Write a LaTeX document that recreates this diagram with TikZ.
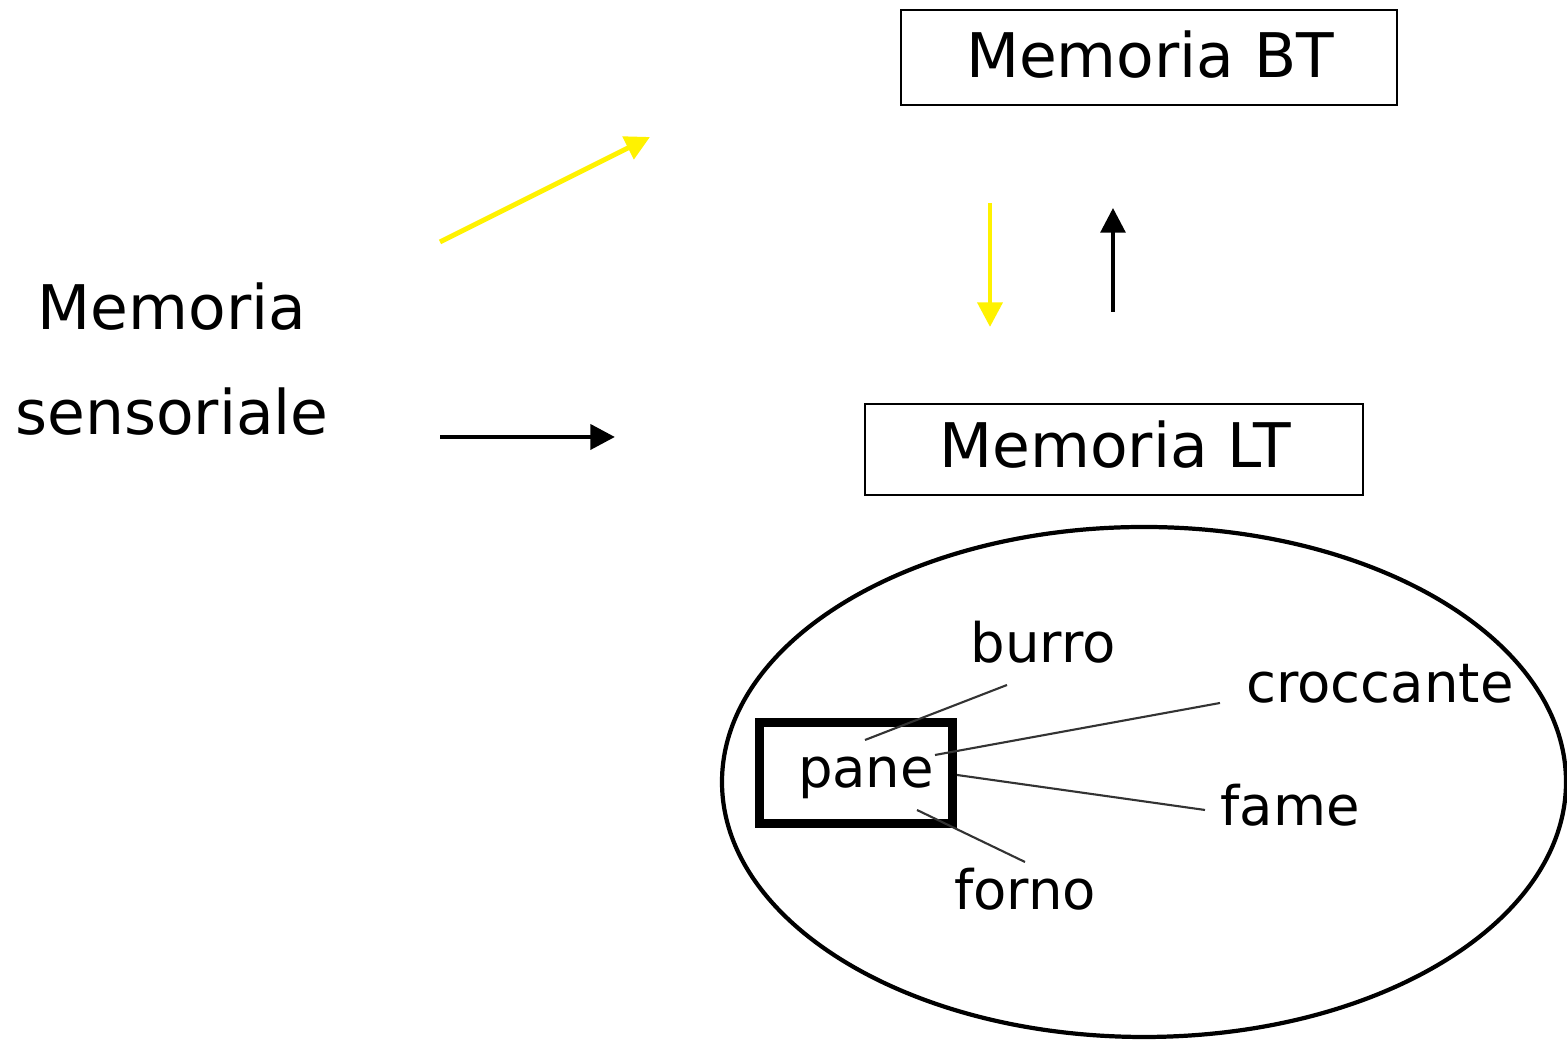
\documentclass[tikz,border=0pt]{standalone}
\usepackage{fontspec}
\setmainfont{DejaVu Sans}
\usetikzlibrary{arrows.meta}

\begin{document}
\begin{tikzpicture}[
  >={Triangle[length=7pt,width=7pt]},
  big/.style={font=\fontsize{17.5}{29.8}\selectfont, inner sep=0pt},
  word/.style={font=\fontsize{15.5}{18}\selectfont, inner sep=0pt, anchor=base},
  memobox/.style={draw, line width=0.8pt, inner sep=0pt},
  flow/.style={->, line width=1.4pt},
  link/.style={line width=0.6pt, black!80}
]
\useasboundingbox (0,0) rectangle (15.67,10.40);

% stores
\node[big, align=center] (sens) at (1.72,6.81) {Memoria\\sensoriale};
\node[memobox, minimum width=4.96cm, minimum height=0.95cm] (bt) at (11.49,9.825) {};
\node[big, anchor=base] (btlab) at (11.50,9.62) {Memoria BT};
\node[memobox, minimum width=4.98cm, minimum height=0.91cm] (lt) at (11.14,5.905) {};
\node[big, anchor=base] (ltlab) at (11.15,5.72) {Memoria LT};

% arrows
\coordinate (ya) at (4.40,7.98);
\coordinate (yb) at (6.50,9.03);
\coordinate (ka) at (4.40,6.03);
\coordinate (kb) at (6.15,6.03);
\coordinate (da) at (9.90,8.37);
\coordinate (db) at (9.90,7.13);
\coordinate (ua) at (11.13,7.28);
\coordinate (ub) at (11.13,8.32);
\draw[flow, yellow] (ya) -- (yb);
\draw[flow] (ka) -- (kb);
\draw[flow, yellow] (da) -- (db);
\draw[flow, line width=1.1pt] (ua) -- (ub);

% long term net
\draw[line width=1.2pt] (11.44,2.58) ellipse (4.22cm and 2.55cm);
\node[draw, line width=2.55pt, minimum width=1.93cm, minimum height=1.01cm, inner sep=0pt] (panebox) at (8.56,2.67) {};
\node[word] (pane) at (8.66,2.52) {pane};
\node[word] (burro) at (10.43,3.77) {burro};
\node[word] (croccante) at (13.80,3.37) {croccante};
\node[word] (fame) at (12.90,2.14) {fame};
\node[word] (forno) at (10.25,1.30) {forno};

\coordinate (p1) at (8.65,3.00);
\coordinate (b1) at (10.07,3.55);
\coordinate (p2) at (9.35,2.85);
\coordinate (c1) at (12.20,3.37);
\coordinate (p3) at (9.57,2.65);
\coordinate (f1) at (12.05,2.30);
\coordinate (p4) at (9.17,2.30);
\coordinate (o1) at (10.25,1.78);
\draw[link] (p1) -- (b1);
\draw[link] (p2) -- (c1);
\draw[link] (p3) -- (f1);
\draw[link] (p4) -- (o1);
\end{tikzpicture}
\end{document}
